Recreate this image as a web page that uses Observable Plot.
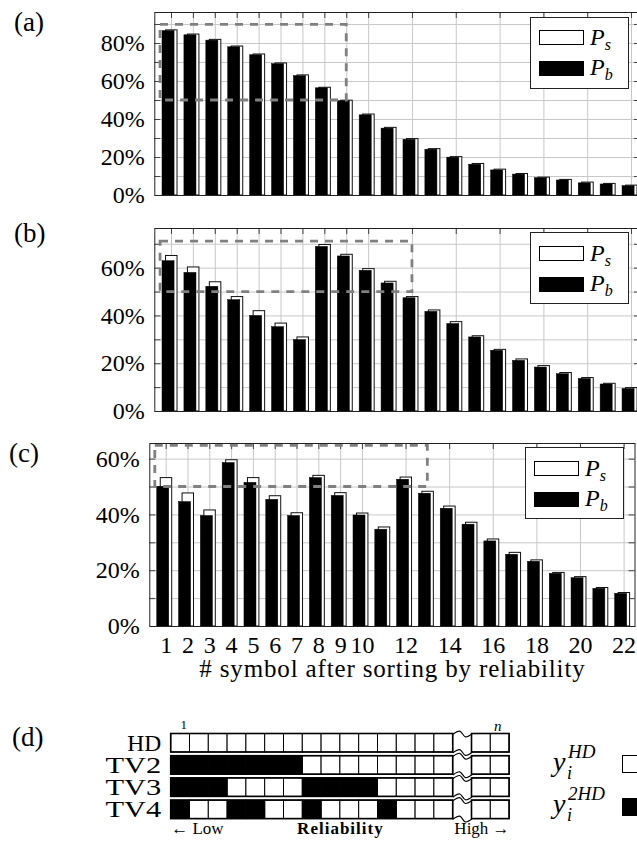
<!DOCTYPE html>
<html><head><meta charset="utf-8">
<script src="https://cdn.jsdelivr.net/npm/d3@7"></script>
<script src="https://cdn.jsdelivr.net/npm/@observablehq/plot@0.6"></script>
<style>
html,body{margin:0;padding:0;background:#fff;overflow:hidden;width:637px;height:843px;}
#root{position:relative;width:637px;height:843px;overflow:hidden;font-family:"Liberation Serif","Times New Roman",serif;color:#000;}
.plabel{position:absolute;font-size:27px;line-height:27px;white-space:nowrap;}
.legend{position:absolute;width:97px;height:70px;border:1px solid #222;background:#fff;}
.sw{position:absolute;width:43px;height:13px;border:1px solid #000;}
.lt{position:absolute;font-size:24px;line-height:24px;font-style:italic;white-space:nowrap;}
.lt span{font-size:16px;position:relative;top:5px;}
.abs{position:absolute;white-space:nowrap;font-style:italic;}
</style></head>
<body><div id="root"></div>
<script>
// ---------------- data ----------------
const symbols = [1,2,3,4,5,6,7,8,9,10,11,12,13,14,15,16,17,18,19,20,21,22];
const xTickLabels = [1,2,3,4,5,6,7,8,9,10,12,14,16,18,20,22];
const xTitle = "# symbol after sorting by reliability";

const PsA = [86.9,84.7,81.9,78.4,74.2,69.5,63.2,56.7,49.9,42.6,35.6,29.7,24.4,20.2,16.6,13.6,11.3,9.4,8.2,6.8,6.1,5.2];
const PbA = [86.5,84.3,81.5,78.0,73.8,69.1,62.8,56.4,49.6,42.2,35.2,29.3,24.1,19.9,16.2,13.2,11.0,9.1,7.9,6.4,5.8,4.9];
const PsB = [65.1,60.3,54.1,47.9,42.0,36.8,31.0,69.7,65.6,59.6,54.3,47.9,42.3,37.4,31.5,25.8,21.8,19.0,16.1,14.0,11.6,9.8];
const PbB = [62.9,58.0,52.2,46.6,40.0,35.3,29.9,68.9,64.9,58.9,53.6,47.4,41.7,36.6,31.0,25.4,21.2,18.4,15.6,13.6,11.3,9.4];
const PsC = [53.2,47.7,41.6,59.6,53.2,46.7,40.6,54.0,47.8,40.5,35.5,53.4,48.3,43.0,37.2,31.2,26.4,23.7,19.2,17.7,13.8,12.0];
const PbC = [50.1,44.6,39.6,58.6,51.5,45.4,39.6,53.2,46.8,39.8,34.7,52.6,47.6,42.2,36.5,30.5,25.7,23.2,18.9,17.3,13.5,11.7];

const yTicksA = [0,20,40,60,80];
const yTicksB = [0,20,40,60];
const yTicksC = [0,20,40,60];
const gridYA = [10,20,30,40,50,60,70,80,90];
const gridYB = [10,20,30,40,50,60,70];
const gridYC = [10,20,30,40,50,60];

const zoomA = {from: 0.5, to: 9, low: 50, high: 89.8};
const zoomB = {from: 0.5, to: 12, low: 50, high: 71.1};
const zoomC = {from: 0.5, to: 13, low: 50, high: 64.8};

const panelNames = ["(a)", "(b)", "(c)", "(d)"];
const legendSeries = [{name: "P", sub: "s", fill: "#fff"}, {name: "P", sub: "b", fill: "#000"}];

const rowNames = ["HD", "TV2", "TV3", "TV4"];
const rowBits = [
  [0,0,0,0,0,0,0,0,0,0,0,0,0,0,0],
  [1,1,1,1,1,1,1,0,0,0,0,0,0,0,0],
  [1,1,1,0,0,0,0,1,1,1,1,0,0,0,0],
  [1,0,0,1,1,0,0,1,0,0,0,1,0,0,0]
];
const tailBits = [[0,0],[0,0],[0,0],[0,0]];
const bottomLabels = ["\u2190 Low", "Reliability", "High \u2192"];

// ---------------- drawing ----------------
const FONT = '"Liberation Serif", "Times New Roman", serif';
const root = document.getElementById("root");
const GRID = "#c8c8c8", TICK = "#444";

function barPanel(cfg) {
  const data = symbols.map((s, i) => ({s, ps: cfg.ps[i], pb: cfg.pb[i]}));
  const fh = cfg.height - cfg.mt - cfg.mb;
  const fw = cfg.width - cfg.ml - cfg.mr;
  const marks = [
    Plot.ruleX(xTickLabels, {stroke: GRID, strokeWidth: 1}),
    Plot.ruleY(cfg.gridY, {stroke: GRID, strokeWidth: 1}),
    Plot.tickX(xTickLabels, {x: d => d, insetBottom: fh - 6, stroke: TICK}),
    Plot.tickX(xTickLabels, {x: d => d, insetTop: fh - 6, stroke: TICK}),
    Plot.tickY(cfg.gridY, {y: d => d, insetLeft: fw - 6, stroke: TICK}),
    Plot.tickY(cfg.gridY, {y: d => d, insetRight: fw - 6, stroke: TICK}),
    Plot.rect(data, {x1: d => d.s - 0.25, x2: d => d.s + 0.275, y1: 0, y2: "ps", fill: "white", stroke: "#111", strokeWidth: 1}),
    Plot.rect(data, {x1: d => d.s - 0.41, x2: d => d.s + 0.14, y1: 0, y2: "pb", fill: "black", stroke: "black", strokeWidth: 0.5}),
    Plot.rect([cfg.zoom], {x1: "from", x2: "to", y1: "low", y2: "high", fill: "none", stroke: "#808080", strokeWidth: 2.8, strokeDasharray: "8,7"}),
    Plot.frame({stroke: "#222", strokeWidth: 1}),
    Plot.axisY(cfg.yTicks, {tickSize: 0, tickPadding: 10, tickFormat: d => d + "%", fontSize: 24, fontFamily: FONT, label: null})
  ];
  if (cfg.showX) {
    marks.push(Plot.axisX(xTickLabels, {tickSize: 0, tickPadding: 9, fontSize: 24, fontFamily: FONT, label: null, tickFormat: d => String(d)}));
    marks.push(Plot.text([xTitle], {text: d => d, frameAnchor: "bottom", dy: 50, fontSize: 25, fontFamily: FONT}));
  }
  const svg = Plot.plot({
    width: cfg.width, height: cfg.height,
    marginLeft: cfg.ml, marginRight: cfg.mr, marginTop: cfg.mt, marginBottom: cfg.mb,
    x: {domain: cfg.xDomain, axis: null},
    y: {domain: [0, cfg.yMax], axis: null},
    style: {position: "absolute", left: "0px", top: cfg.top + "px", fontFamily: FONT, fontSize: "24px",
            background: "transparent", maxWidth: "none", overflow: "visible"},
    marks
  });
  svg.querySelectorAll("text").forEach(t => {
    if (t.textContent === xTitle) t.setAttribute("letter-spacing", "0.85");
  });
  root.appendChild(svg);
  return svg;
}

function legend(left, top) {
  const box = document.createElement("div");
  box.className = "legend";
  box.style.left = left + "px"; box.style.top = top + "px";
  legendSeries.forEach((s, i) => {
    const sw = document.createElement("div");
    sw.className = "sw";
    sw.style.left = "7.4px"; sw.style.top = (12.3 + i * 31) + "px"; sw.style.background = s.fill;
    box.appendChild(sw);
    const t = document.createElement("div");
    t.className = "lt";
    t.style.left = "58.7px"; t.style.top = (7.5 + i * 30) + "px";
    t.innerHTML = s.name + "<span>" + s.sub + "</span>";
    box.appendChild(t);
  });
  root.appendChild(box);
}

barPanel({ps: PsA, pb: PbA, yTicks: yTicksA, gridY: gridYA, zoom: zoomA, yMax: 96.3,
  top: 0, width: 642, height: 210, ml: 154.3, mr: 2, mt: 12, mb: 15, xDomain: [0.238, 22.41]});
barPanel({ps: PsB, pb: PbB, yTicks: yTicksB, gridY: gridYB, zoom: zoomB, yMax: 76.6,
  top: 215.7, width: 642, height: 210, ml: 154.3, mr: 2, mt: 12, mb: 15, xDomain: [0.238, 22.41]});
barPanel({ps: PsC, pb: PbC, yTicks: yTicksC, gridY: gridYC, zoom: zoomC, yMax: 65.6, showX: true,
  top: 430.7, width: 637, height: 260, ml: 149.3, mr: 2.5, mt: 12, mb: 65, xDomain: [0.248, 22.5]});

legend(530.3, 16.7);
legend(530.3, 232.3);
legend(525.3, 447.3);

// panel labels
[[14, 9], [14, 220], [9, 440], [12, 724]].forEach(([l, t], i) => {
  const d = document.createElement("div");
  d.className = "plabel"; d.style.left = l + "px"; d.style.top = t + "px";
  d.textContent = panelNames[i];
  root.appendChild(d);
});

// ---------------- panel (d) ----------------
const nHead = rowBits[0].length;
const nTotal = nHead + 1 + tailBits[0].length;
const rowH = 0.833;
const cells = [];
rowNames.forEach((name, r) => {
  rowBits[r].forEach((v, c) => cells.push({r, c, v}));
  tailBits[r].forEach((v, k) => cells.push({r, c: nHead + 1 + k, v}));
});
const outlines = [];
rowNames.forEach((name, r) => {
  outlines.push({r, a: 0, b: nHead});
  outlines.push({r, a: nHead + 1, b: nTotal});
});
const wig = [];
rowNames.forEach((name, r) => {
  [r, r + rowH].forEach((e, j) => {
    const id = r + "-" + j;
    [[0, 0], [0.35, -0.13], [0.65, 0.13], [1, 0]].forEach(([dx, dy]) => wig.push({id, x: nHead + dx, y: e + dy}));
  });
});

const svgD = Plot.plot({
  width: 637, height: 143,
  marginLeft: 170.7, marginRight: 127.9, marginTop: 33.5, marginBottom: 20.7,
  x: {domain: [0, nTotal], axis: null},
  y: {domain: [0, rowNames.length], reverse: true, axis: null},
  style: {position: "absolute", left: "0px", top: "700px", fontFamily: FONT, fontSize: "14px",
          background: "transparent", maxWidth: "none", overflow: "visible"},
  marks: [
    Plot.rect(cells.filter(d => !d.v), {x1: "c", x2: d => d.c + 1, y1: "r", y2: d => d.r + rowH, fill: "white", stroke: "black", strokeWidth: 1}),
    Plot.rect(cells.filter(d => d.v), {x1: "c", x2: d => d.c + 1, y1: "r", y2: d => d.r + rowH, fill: "black", stroke: "black", strokeWidth: 1}),
    Plot.rect(outlines, {x1: "a", x2: "b", y1: "r", y2: d => d.r + rowH, fill: "none", stroke: "black", strokeWidth: 1.6}),
    Plot.line(wig, {x: "x", y: "y", z: "id", curve: "catmull-rom", stroke: "black", strokeWidth: 1.2}),
    Plot.text(rowNames, {text: d => d, y: (d, i) => i + rowH / 2, frameAnchor: "left", textAnchor: "end", dx: -10, fontSize: 21, fontFamily: FONT}),
    Plot.text(["1"], {text: d => d, frameAnchor: "top-left", dx: 9.4, dy: -14, fontSize: 13, fontFamily: FONT}),
    Plot.text(["n"], {text: d => d, frameAnchor: "top-right", dx: -8, dy: -14, fontSize: 15, fontStyle: "italic", fontFamily: FONT}),
    Plot.text([bottomLabels[0]], {text: d => d, frameAnchor: "bottom-left", textAnchor: "start", dy: 11, fontSize: 17, fontFamily: FONT}),
    Plot.text([bottomLabels[1]], {text: d => d, frameAnchor: "bottom", dy: 11, fontSize: 17, fontWeight: "bold", fontFamily: FONT}),
    Plot.text([bottomLabels[2]], {text: d => d, frameAnchor: "bottom-right", textAnchor: "end", dy: 11, fontSize: 17, fontFamily: FONT})
  ]
});
svgD.querySelectorAll("text").forEach(t => {
  const s = t.textContent;
  if (s === bottomLabels[1]) t.setAttribute("letter-spacing", "1");
  const tr = t.getAttribute("transform");
  if (tr && s.startsWith("TV")) t.setAttribute("transform", tr + " scale(1.45,1.08)");
  if (tr && s === "HD") t.setAttribute("transform", tr + " scale(1.12,1.08)");
});
root.appendChild(svgD);

// legend of (d)
const dLegend = [
  {sup: "HD", fill: "#fff", top: 748, boxTop: 755},
  {sup: "2HD", fill: "#000", top: 790, boxTop: 798}
];
dLegend.forEach(it => {
  const y = document.createElement("div");
  y.className = "abs"; y.style.left = "553px"; y.style.top = it.top + "px";
  y.style.fontSize = "28px"; y.style.lineHeight = "28px"; y.textContent = "y";
  root.appendChild(y);
  const sup = document.createElement("div");
  sup.className = "abs"; sup.style.left = "568px"; sup.style.top = (it.top - 6) + "px";
  sup.style.fontSize = "19px"; sup.style.lineHeight = "19px"; sup.textContent = it.sup;
  root.appendChild(sup);
  const sub = document.createElement("div");
  sub.className = "abs"; sub.style.left = "567px"; sub.style.top = (it.top + 16) + "px";
  sub.style.fontSize = "18px"; sub.style.lineHeight = "18px"; sub.textContent = "i";
  root.appendChild(sub);
  const b = document.createElement("div");
  b.style.position = "absolute"; b.style.left = "622px"; b.style.top = it.boxTop + "px";
  b.style.width = "22px"; b.style.height = "16px"; b.style.border = "1.3px solid #000"; b.style.background = it.fill;
  root.appendChild(b);
});
</script></body></html>
